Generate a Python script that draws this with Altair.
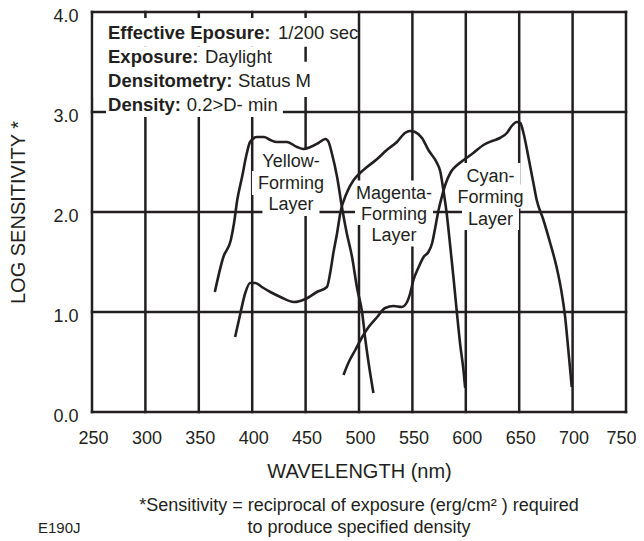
import altair as alt
import pandas as pd

INK = "#231f20"
FONT = "Liberation Sans"

# ---------------- data ----------------
yellow_nm = [365, 373, 380, 383, 386, 390.5, 395, 398, 404.5, 411, 417, 423, 432.5, 442,
             448, 454.5, 462, 468.5, 471.5, 474.5, 479.5, 484, 488.5, 493.5, 498, 503,
             506, 509, 513.5]
yellow_v = [1.20, 1.55, 1.72, 1.89, 2.12, 2.35, 2.59, 2.70, 2.75, 2.75, 2.72, 2.70, 2.70,
            2.65, 2.63, 2.65, 2.69, 2.73, 2.70, 2.59, 2.35, 2.05, 1.79, 1.55, 1.25, 0.99,
            0.72, 0.49, 0.19]

magenta_nm = [384, 389, 393.5, 398, 403, 409, 417, 426.5, 439, 450, 460.5, 470, 473, 476,
              479.5, 482.5, 488.5, 495, 501, 507.5, 517, 526, 535.5, 543, 548, 552.5, 559,
              565, 573, 576, 579, 582.3, 585.4, 588.5, 591.6, 594.8, 597.8, 599.4]
magenta_v = [0.75, 0.99, 1.19, 1.29, 1.29, 1.25, 1.20, 1.15, 1.10, 1.13, 1.20, 1.25, 1.39,
             1.59, 1.79, 1.99, 2.19, 2.32, 2.39, 2.45, 2.53, 2.62, 2.70, 2.79, 2.81, 2.80,
             2.74, 2.62, 2.49, 2.41, 2.22, 1.97, 1.66, 1.34, 1.00, 0.67, 0.42, 0.24]

cyan_nm = [485.5, 490, 496.5, 503, 509, 517, 524.5, 532.5, 540, 545, 548, 551, 555.5,
           560.5, 565, 568.5, 571.5, 574.5, 577.5, 580.7, 586, 592, 598, 607, 616.5,
           624.5, 632, 638.5, 643, 647.7, 651, 654, 658.6, 663.3, 666.4, 672.7, 679,
           685, 689.8, 693, 696, 699.2]
cyan_v = [0.37, 0.49, 0.62, 0.75, 0.85, 0.95, 1.04, 1.06, 1.05, 1.10, 1.19, 1.32, 1.44,
          1.55, 1.60, 1.69, 1.85, 2.02, 2.15, 2.27, 2.40, 2.47, 2.52, 2.59, 2.67, 2.71,
          2.74, 2.79, 2.86, 2.90, 2.89, 2.79, 2.55, 2.29, 2.12, 1.92, 1.69, 1.45, 1.19,
          0.95, 0.62, 0.25]

x_ticks = [250, 300, 350, 400, 450, 500, 550, 600, 650, 700, 750]
y_ticks = [0, 1, 2, 3, 4]

# layer labels
label_text = ["Yellow-", "Forming", "Layer",
              "Magenta-", "Forming", "Layer",
              "Cyan-", "Forming", "Layer"]
label_x = [436.3] * 3 + [532.8] * 3 + [623.1] * 3
label_y = [2.446, 2.226, 2.016, 2.13, 1.925, 1.71, 2.305, 2.09, 1.875]

# conditions block (bold key + regular value)
info_key = ["Effective Eposure:", "Exposure:", "Densitometry:", "Density:"]
info_val = ["1/200 sec", "Daylight", "Status M", "0.2>D- min"]
info_key_x = [265.0] * 4
info_val_x = [424.2, 355.8, 386.7, 338.7]
info_y = [3.73, 3.49, 3.25, 3.01]
# white backgrounds behind those lines
info_box_x1 = [251.5, 251.5, 251.5, 263.1]
info_box_x2 = [498.1, 430.7, 463.5, 428.8]
info_box_y1 = [3.94, 3.653, 3.503, 3.15]
info_box_y2 = [3.653, 3.503, 3.15, 2.95]

footnote = ["*Sensitivity = reciprocal of exposure (erg/cm\u00b2 ) required",
            "to produce specified density"]
code_label = "E190J"

# ---------------- geometry helpers ----------------
W_PLOT, H_PLOT = 534, 400
PX_PER_NM = W_PLOT / 500.0
PX_PER_V = H_PLOT / 4.0

AW = {" ": 278, "-": 333, "A": 667, "C": 722, "F": 611, "L": 556, "M": 833, "Y": 667,
      "a": 556, "e": 556, "g": 556, "i": 222, "l": 222, "m": 833, "n": 556, "o": 556,
      "r": 333, "w": 722, "y": 500, "t": 278}


def text_w(s, size):
    return sum(AW.get(c, 556) for c in s) * size / 1000.0


LBL_SIZE = 18
box_rows = []
for t, x, y in zip(label_text, label_x, label_y):
    half = (text_w(t, LBL_SIZE) + 12) / 2 / PX_PER_NM
    mid = y + 6.4 / PX_PER_V
    box_rows.append({"x1": x - half, "x2": x + half, "y1": mid - 0.12, "y2": mid + 0.12})
for a, b, c, d in zip(info_box_x1, info_box_x2, info_box_y1, info_box_y2):
    box_rows.append({"x1": a, "x2": b, "y1": c, "y2": d})
boxes = pd.DataFrame(box_rows)

curves = pd.concat([
    pd.DataFrame({"nm": yellow_nm, "v": yellow_v, "layer": "Yellow"}),
    pd.DataFrame({"nm": magenta_nm, "v": magenta_v, "layer": "Magenta"}),
    pd.DataFrame({"nm": cyan_nm, "v": cyan_v, "layer": "Cyan"}),
])

xs = alt.Scale(domain=[250, 750], nice=False, zero=False)
ys = alt.Scale(domain=[0, 4], nice=False)

x_axis = alt.Axis(values=x_ticks, format="d", title="WAVELENGTH (nm)", grid=False,
                  domain=False, ticks=False, tickSize=0, labelPadding=17, titlePadding=14,
                  labelOffset={"condition": {"test": "datum.value >= 750", "value": -5},
                               "value": 1},
                  labelFlush=False)
y_axis = alt.Axis(values=y_ticks, format=".1f", title="LOG SENSITIVITY *", grid=False,
                  domain=False, ticks=False, tickSize=0, labelPadding=14, titlePadding=24,
                  labelOffset=4, labelFlush=False)

vgrid = alt.Chart(pd.DataFrame({"v": x_ticks})).mark_rule(
    color=INK, strokeWidth=2.5, strokeCap="square").encode(
    x=alt.X("v:Q", scale=xs, axis=x_axis))
hgrid = alt.Chart(pd.DataFrame({"v": y_ticks})).mark_rule(
    color=INK, strokeWidth=2.5, strokeCap="square").encode(
    y=alt.Y("v:Q", scale=ys, axis=y_axis))

bg = alt.Chart(boxes).mark_rect(fill="white", strokeWidth=0).encode(
    x=alt.X("x1:Q", scale=xs), x2="x2:Q",
    y=alt.Y("y1:Q", scale=ys), y2="y2:Q")

lines = alt.Chart(curves).mark_line(
    color=INK, strokeWidth=2.6, interpolate="monotone").encode(
    x=alt.X("nm:Q", scale=xs), y=alt.Y("v:Q", scale=ys),
    detail="layer:N", order="nm:Q")

labels = alt.Chart(pd.DataFrame({"t": label_text, "x": label_x, "y": label_y})).mark_text(
    font=FONT, fontSize=LBL_SIZE, color=INK, align="center", baseline="alphabetic").encode(
    x=alt.X("x:Q", scale=xs), y=alt.Y("y:Q", scale=ys), text="t:N")

info_b = alt.Chart(pd.DataFrame({"t": info_key, "x": info_key_x, "y": info_y})).mark_text(
    font=FONT, fontSize=18.5, fontWeight="bold", color=INK, align="left",
    baseline="alphabetic").encode(
    x=alt.X("x:Q", scale=xs), y=alt.Y("y:Q", scale=ys), text="t:N")
info_r = alt.Chart(pd.DataFrame({"t": info_val, "x": info_val_x, "y": info_y})).mark_text(
    font=FONT, fontSize=18.5, color=INK, align="left", baseline="alphabetic").encode(
    x=alt.X("x:Q", scale=xs), y=alt.Y("y:Q", scale=ys), text="t:N")

foot = alt.Chart(pd.DataFrame({"t": footnote, "py": [499, 521]})).mark_text(
    font=FONT, fontSize=18, color=INK, align="center", baseline="alphabetic").encode(
    x=alt.value(W_PLOT / 2), y=alt.Y("py:Q", scale=None), text="t:N")

code = alt.Chart(pd.DataFrame({"t": [code_label]})).mark_text(
    font=FONT, fontSize=15, color=INK, align="left", baseline="alphabetic").encode(
    x=alt.value(-54), y=alt.value(521), text="t:N")

chart = alt.layer(vgrid, hgrid, bg, lines, labels, info_b, info_r, foot, code).properties(
    width=W_PLOT, height=H_PLOT,
    padding={"left": 84, "top": 4, "right": 10, "bottom": 125},
    autosize=alt.AutoSizeParams(type="none"),
).configure_view(stroke=None).configure_axis(
    labelFont=FONT, labelFontSize=18, labelColor=INK,
    titleFont=FONT, titleFontSize=20, titleFontWeight="normal", titleColor=INK,
)

chart.save("out.html", embed_options={"renderer": "svg", "actions": False})
